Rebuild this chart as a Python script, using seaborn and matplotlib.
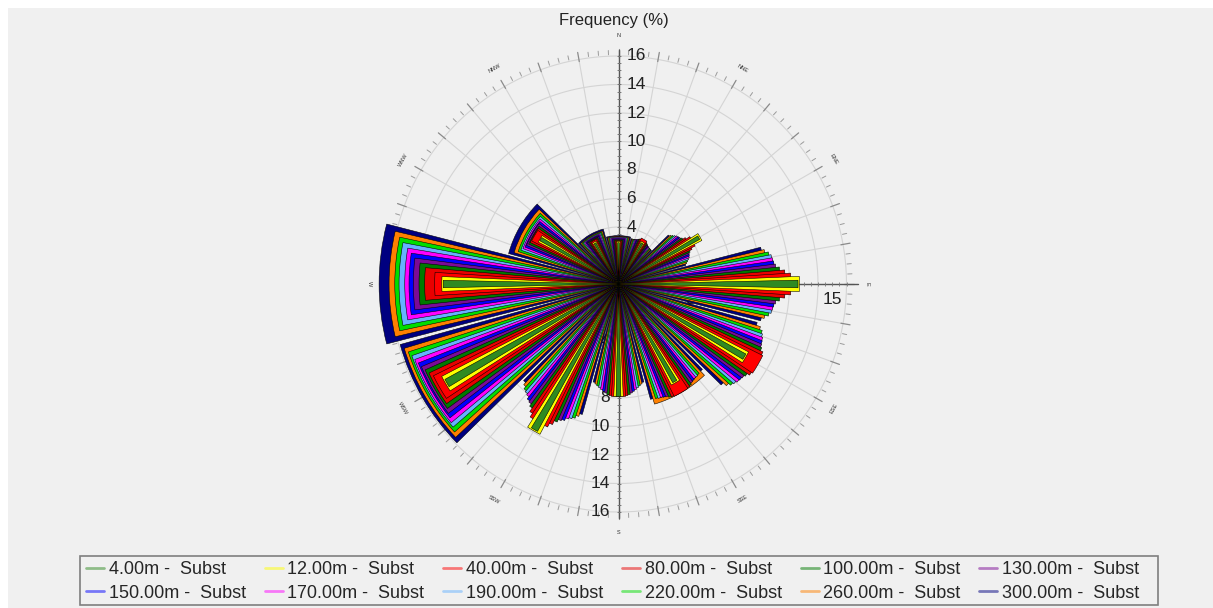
import numpy as np
import matplotlib
matplotlib.use("Agg")
import matplotlib.pyplot as plt
import matplotlib.transforms as mtransforms
from matplotlib.lines import Line2D
from matplotlib.patches import Rectangle
import seaborn as sns

# ---- data -------------------------------------------------------------
directions = [0, 30, 60, 90, 120, 150, 180, 210, 240, 270, 300, 330]
heights = ["4.00m", "12.00m", "40.00m", "80.00m", "100.00m", "130.00m",
           "150.00m", "170.00m", "190.00m", "220.00m", "260.00m", "300.00m"]

freq_4m = [2.9, 3.3, 6.5, 12.6, 10.2, 7.9, 7.9, 11.8, 13.9, 12.3, 6.3, 3.3]
freq_12m = [3.0, 3.4, 6.6, 12.7, 10.3, 8.0, 7.9, 11.9, 14.0, 12.4, 6.35, 3.4]
freq_40m = [3.0, 3.6, 6.0, 12.1, 11.3, 8.8, 7.9, 11.2, 14.5, 12.9, 6.8, 3.5]
freq_80m = [3.05, 3.5, 5.7, 11.7, 11.2, 8.75, 7.85, 10.9, 14.7, 13.6, 6.85, 3.55]
freq_100m = [3.1, 3.45, 5.5, 11.35, 11.0, 8.7, 7.8, 10.6, 14.85, 14.0, 6.9, 3.6]
freq_130m = [3.15, 3.4, 5.4, 11.1, 10.9, 8.6, 7.7, 10.4, 15.0, 14.4, 7.0, 3.65]
freq_150m = [3.2, 3.35, 5.35, 11.0, 10.85, 8.55, 7.6, 10.3, 15.1, 14.7, 7.05, 3.7]
freq_170m = [3.25, 3.35, 5.3, 10.95, 10.8, 8.5, 7.5, 10.1, 15.25, 15.0, 7.15, 3.75]
freq_190m = [3.3, 3.3, 5.2, 10.9, 10.7, 8.5, 7.4, 10.0, 15.35, 15.4, 7.25, 3.8]
freq_220m = [3.3, 3.3, 5.1, 10.75, 10.6, 8.45, 7.3, 9.9, 15.5, 15.7, 7.4, 3.85]
freq_260m = [3.35, 3.3, 5.0, 10.5, 10.4, 8.8, 7.2, 9.7, 15.7, 16.1, 7.65, 3.9]
freq_300m = [3.4, 3.3, 4.9, 10.3, 10.1, 8.4, 7.1, 9.5, 15.9, 16.8, 8.0, 4.0]

series = [freq_4m, freq_12m, freq_40m, freq_80m, freq_100m, freq_130m,
          freq_150m, freq_170m, freq_190m, freq_220m, freq_260m, freq_300m]

series_colors = ["#2f8a22", "#ffff00", "#ff0000", "#e80000", "#007a00", "#7c0a96",
                 "#0000ff", "#ff00ff", "#66b2ff", "#00dd00", "#ff8000", "#000080"]

compass_points = ["N", "NNE", "ENE", "E", "ESE", "SSE",
                  "S", "SSW", "WSW", "W", "WNW", "NNW"]
radial_ticks = [2, 4, 6, 8, 10, 12, 14, 16]
east_ticks = [5, 10, 15]

# ---- style ------------------------------------------------------------
sns.set_theme(style="white")
plt.rcParams["font.family"] = ["Liberation Sans", "DejaVu Sans"]
palette = sns.color_palette(series_colors)

W, H = 1213, 608
fig = plt.figure(figsize=(W / 100, H / 100), dpi=100, facecolor="white")
fig.patches.append(Rectangle((8 / W, 0), 1 - 8 / W, 600 / H, transform=fig.transFigure,
                             facecolor="#f0f0f0", edgecolor="none", zorder=-10))

cx, cy = 618.5, 284.0      # rose centre in pixels (from top-left)
ppu = 14.25                # pixels per percent
rmax = 17.6
R = rmax * ppu
ax = fig.add_axes([(cx - R) / W, (H - cy - R) / H, 2 * R / W, 2 * R / H], projection="polar")
ax.set_theta_zero_location("N")
ax.set_theta_direction(-1)
ax.set_ylim(0, rmax)
ax.axis("off")

grid_c = "#d4d4d4"
t = np.linspace(0, 2 * np.pi, 721)
for r in radial_ticks:
    ax.plot(t, np.full_like(t, r), color=grid_c, lw=0.8, zorder=1)
for a in range(0, 360, 10):
    th = np.deg2rad(a)
    ax.plot([th, th], [0, 16.0], color=grid_c, lw=0.8, zorder=1)
    ax.plot([th, th], [15.85, 16.5], color="#8a8a8a", lw=0.9, zorder=1)
for a in np.arange(0, 360, 2.5):
    if a % 10:
        th = np.deg2rad(a)
        ax.plot([th, th], [16.1, 16.4], color="#9a9a9a", lw=0.7, zorder=1)

# compass point labels
for i, name in enumerate(compass_points):
    bearing = directions[i]
    rot = -bearing
    while rot < -90:
        rot += 180
    ax.text(np.deg2rad(bearing), 17.45, name, fontsize=4, rotation=rot,
            rotation_mode="anchor", ha="center", va="center", color="#333333", zorder=1)

# frequency axes
axis_c = "#555555"
ax.plot([0, 0], [0, 16.45], color=axis_c, lw=1.0, zorder=2)
ax.plot([np.pi, np.pi], [0, 16.45], color=axis_c, lw=1.0, zorder=2)
ax.plot([np.pi / 2, np.pi / 2], [0, 16.8], color=axis_c, lw=1.0, zorder=2)
minor = np.arange(0.5, 16.3, 0.5)
ax.plot(np.zeros_like(minor), minor, ls="none", marker="_", ms=3, mew=0.6, color="#777777", zorder=2)
ax.plot(np.full_like(minor, np.pi), minor, ls="none", marker="_", ms=3, mew=0.6, color="#777777", zorder=2)
ax.plot(np.full_like(minor, np.pi / 2), minor, ls="none", marker="|", ms=3, mew=0.6, color="#777777", zorder=2)

off_n = mtransforms.offset_copy(ax.transData, fig=fig, x=8, y=0, units="dots")
off_s = mtransforms.offset_copy(ax.transData, fig=fig, x=-9, y=0, units="dots")
off_e = mtransforms.offset_copy(ax.transData, fig=fig, x=0, y=-15, units="dots")
for v in radial_ticks:
    ax.text(0, v, str(v), transform=off_n, ha="left", va="center", fontsize=12.5, color="#222222", zorder=2)
    ax.text(np.pi, v, str(v), transform=off_s, ha="right", va="center", fontsize=12.5, color="#222222", zorder=2)
for v in east_ticks:
    ax.text(np.pi / 2, v, str(v), transform=off_e, ha="center", va="center", fontsize=12.5, color="#222222", zorder=2)

# nested wind-rose bars: widest (highest level) first
theta = np.deg2rad(directions)
span = 29.0
for k in reversed(range(len(series))):
    ax.bar(theta, series[k], width=np.deg2rad(span * (k + 1) / len(series)), bottom=0,
           color=palette[k], edgecolor="black", linewidth=0.38, zorder=3 + (len(series) - k))

fig.text(614 / W, 1 - 20 / H, "Frequency (%)", ha="center", va="center", fontsize=12, color="#222222")

# legend: two rows of six inside a plain frame
fig.patches.append(Rectangle((80 / W, 1 - 605 / H), 1078 / W, 49 / H, transform=fig.transFigure,
                             facecolor="#f0f0f0", edgecolor="#7f7f7f", lw=1.2, zorder=5))
order = [0, 6, 1, 7, 2, 8, 3, 9, 4, 10, 5, 11]
handles = [Line2D([], [], color=palette[k], alpha=0.5, lw=2) for k in order]
labels = [f"{heights[k]} -  Subst" for k in order]
leg = fig.legend(handles, labels, ncol=6, loc="upper left", bbox_to_anchor=(86 / W, 1 - 561 / H),
                 frameon=False, fontsize=13, handlelength=1.0, handletextpad=0.25,
                 columnspacing=1.05, labelspacing=0.36, borderpad=0.0, borderaxespad=0)
leg.set_zorder(6)

fig.savefig("out.png", dpi=100, facecolor=fig.get_facecolor())
